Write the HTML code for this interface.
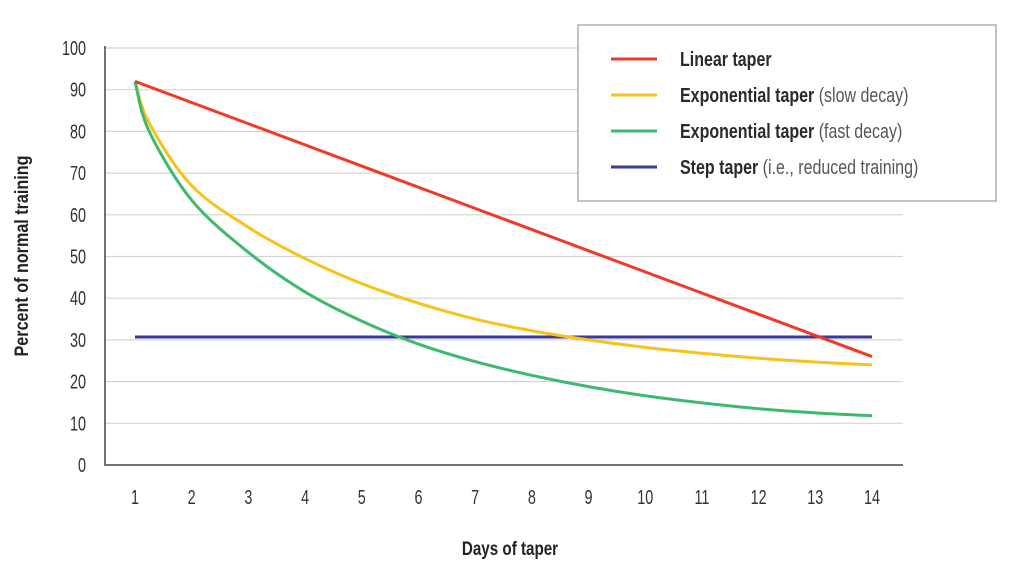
<!DOCTYPE html>
<html><head><meta charset="utf-8"><style>
body{margin:0;background:#fff;}
svg{display:block;font-family:"Liberation Sans",sans-serif;}
</style></head><body>
<svg id="c" width="1024" height="581" viewBox="0 0 1024 581"></svg>
<script>
const days = [1,1.25,2,3,4,5,6,7,8,9,10,11,12,13,14];
const linearVals = [92,90.7,86.9,81.8,76.7,71.6,66.6,61.5,56.4,51.3,46.2,41.2,36.1,31,26];
const slowVals = [92,82,67,57,49.5,43.5,38.8,35,32.2,30,28.2,26.8,25.6,24.7,24];
const fastVals = [92,80,63.5,51,41.5,34.5,29,24.8,21.5,18.8,16.6,14.9,13.5,12.5,11.8];
const stepVals = [30.7,30.7];
const stepDays = [1,14];
const xTicks = [1,2,3,4,5,6,7,8,9,10,11,12,13,14];
const yTicks = [0,10,20,30,40,50,60,70,80,90,100];
const legendLabels = [["Linear taper",""],["Exponential taper"," (slow decay)"],["Exponential taper"," (fast decay)"],["Step taper"," (i.e., reduced training)"]];

const NS="http://www.w3.org/2000/svg";
const svg=document.getElementById('c');
const X=d=>135+(d-1)*(872-135)/13;
const Y=v=>465-v*(465-48)/100;
function mk(t,a,p){const e=document.createElementNS(NS,t);for(const k in a)e.setAttribute(k,a[k]);(p||svg).appendChild(e);return e;}
const sx=0.72;
yTicks.forEach(v=>{
  if(v>0){const g=mk('line',{x1:105,x2:903,y1:Y(v),y2:Y(v),stroke:'#d4d4d4','stroke-width':1.2});
  
  }
  const t=mk('text',{x:86,y:Y(v)+7,'text-anchor':'end','font-size':20,fill:'#333',transform:`translate(${86*(1-sx)},0) scale(${sx},1)`});
  t.textContent=v;
  
  
});
const ax=mk('path',{d:'M105,46 V465 H903',fill:'none',stroke:'#444','stroke-width':1.5});


xTicks.forEach(d=>{
  const t=mk('text',{x:X(d),y:504,'text-anchor':'middle','font-size':20,fill:'#333',transform:`translate(${X(d)*(1-sx)},0) scale(${sx},1)`});
  t.textContent=d;
  
  
});
const xt=mk('text',{x:510,y:555,'text-anchor':'middle','font-size':19,'font-weight':'bold',fill:'#222',transform:`translate(${510*0.2},0) scale(0.8,1)`});
xt.textContent='Days of taper';


const yt=mk('text',{x:0,y:0,'text-anchor':'middle','font-size':19,'font-weight':'bold',fill:'#222',transform:'translate(28,256) rotate(-90) scale(0.85,1)'});
yt.textContent='Percent of normal training';



function curve(xs,ys){
  const p=xs.map((d,i)=>[X(d),Y(ys[i])]);
  let s=`M${p[0][0]},${p[0][1]}`;
  for(let i=0;i<p.length-1;i++){
    const p0=p[Math.max(0,i-1)],p1=p[i],p2=p[i+1],p3=p[Math.min(p.length-1,i+2)];
    const c1=[p1[0]+(p2[0]-p0[0])/6,p1[1]+(p2[1]-p0[1])/6];
    const c2=[p2[0]-(p3[0]-p1[0])/6,p2[1]-(p3[1]-p1[1])/6];
    s+=` C${c1[0]},${c1[1]} ${c2[0]},${c2[1]} ${p2[0]},${p2[1]}`;
  }
  return s;
}
const series=[[stepDays,stepVals,'#3a3a9a','line-step'],[days,slowVals,'#f7c21a','line-slow-exp'],[days,fastVals,'#3dba6e','line-fast-exp'],[[1,14],[linearVals[0],linearVals[linearVals.length-1]],'#ef3a25','line-linear']];
series.forEach(s=>{
  const e=mk('path',{d:curve(s[0],s[1]),fill:'none',stroke:s[2],'stroke-width':3});
  
  
});

const lg=mk('g',{});


mk('rect',{x:578,y:25,width:418,height:176,fill:'#fff',stroke:'#999','stroke-width':1.2},lg);
const lc=['#ef3a25','#f7c21a','#3dba6e','#3a3a9a'];
legendLabels.forEach((l,i)=>{
  const y=59+i*36;
  mk('line',{x1:611,x2:657,y1:y,y2:y,stroke:lc[i],'stroke-width':3},lg);
  const t=mk('text',{x:680,y:y+7,'font-size':20,fill:'#2a2a2a',transform:`translate(${680*0.2},0) scale(0.8,1)`},lg);
  
  
  const b=mk('tspan',{'font-weight':'bold'},t);b.textContent=l[0];
  const n=mk('tspan',{fill:'#555'},t);n.textContent=l[1];
});
</script>
</body></html>
